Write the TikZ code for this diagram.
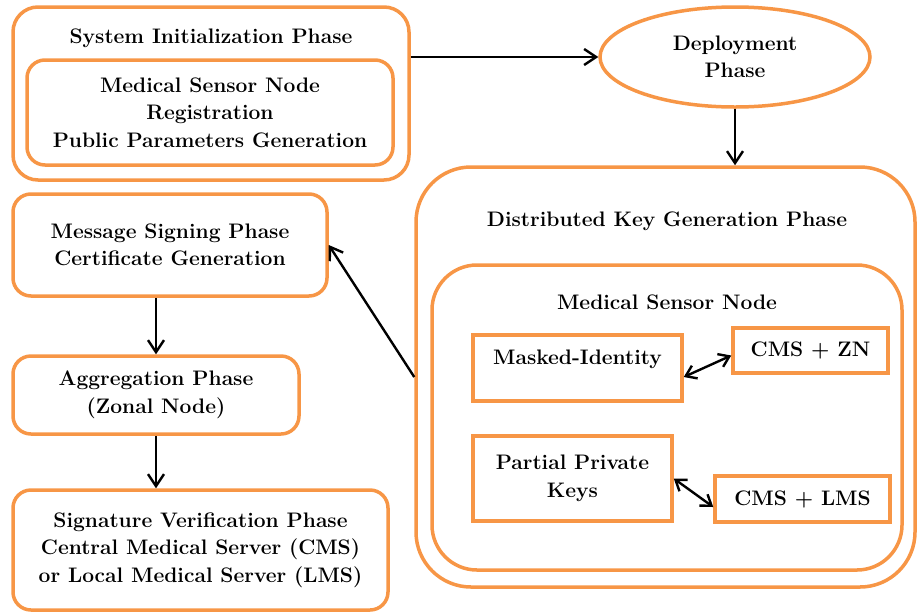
\documentclass[tikz,border=0pt]{standalone}
\usetikzlibrary{arrows.meta, shapes.geometric}
\definecolor{phaseOrange}{RGB}{247,150,70}

\begin{document}
\begin{tikzpicture}[
    x=1pt, y=-1pt,
    font=\fontsize{21}{27.5}\selectfont\bfseries,
    fase/.style={
        rectangle,
        rounded corners=18pt,
        draw=phaseOrange,
        line width=3.5pt,
        align=center,
        inner sep=0pt
    },
    marco/.style={
        rectangle,
        draw=phaseOrange,
        line width=3.5pt,
        inner sep=0pt
    },
    caja/.style={
        rectangle,
        draw=phaseOrange,
        line width=3.5pt,
        align=center,
        inner sep=0pt
    },
    titulo/.style={
        align=center,
        inner sep=0pt
    },
    flecha/.style={
        -{Straight Barb[length=12pt, width=16pt]},
        line width=2.4pt
    },
    dflecha/.style={
        {Straight Barb[length=10pt, width=14pt]}-{Straight Barb[length=10pt, width=14pt]},
        line width=2.4pt
    }
]
    \useasboundingbox (0,0) rectangle (917,611);

    % system initialization
    \node[marco, rounded corners=25pt, minimum width=396pt, minimum height=173pt] (sysinit) at (211,93.5) {};
    \node[titulo] (sysinitT) at (211,38) {System Initialization Phase};
    \node[fase, minimum width=366pt, minimum height=105pt] (registro) at (210,112.5)
        {Medical Sensor Node\\Registration\\Public Parameters Generation};

    % deployment
    \node[ellipse, draw=phaseOrange, line width=3.5pt, align=center, inner sep=0pt,
          minimum width=270pt, minimum height=100pt] (deploy) at (735,57) {Deployment\\Phase};

    % distributed key generation
    \node[marco, rounded corners=55pt, minimum width=499pt, minimum height=420pt] (dkg) at (665.5,377) {};
    \node[titulo] (dkgT) at (667,221) {Distributed Key Generation Phase};
    \node[marco, rounded corners=45pt, minimum width=470pt, minimum height=305pt] (msn) at (667,417.5) {};
    \node[titulo] (msnT) at (667,302) {Medical Sensor Node};
    \node[caja, minimum width=209pt, minimum height=66pt, text height=14pt, text depth=22pt] (masked) at (577.5,368) {Masked-Identity};
    \node[caja, minimum width=155pt, minimum height=45pt] (cmszn) at (810.5,350.5) {CMS + ZN};
    \node[caja, minimum width=199pt, minimum height=85pt] (ppk) at (572.5,478.5) {Partial Private\\Keys};
    \node[caja, minimum width=175pt, minimum height=46pt] (cmslms) at (802.5,499) {CMS + LMS};

    % left column
    \node[fase, minimum width=314pt, minimum height=102pt] (msp) at (170,245) {Message Signing Phase\\Certificate Generation};
    \node[fase, minimum width=286pt, minimum height=78pt] (agg) at (156,395) {Aggregation Phase\\(Zonal Node)};
    \node[fase, minimum width=375pt, minimum height=120pt] (sigver) at (200.5,550)
        {Signature Verification Phase\\Central Medical Server (CMS)\\or Local Medical Server (LMS)};

    \draw[flecha] (sysinit.east |- deploy.west) -- (deploy.west);
    \draw[flecha] (deploy.south) -- (deploy.south |- dkg.north);
    \draw[flecha] (dkg.west) -- (msp.east);
    \draw[flecha] (agg.north |- msp.south) -- (agg.north);
    \draw[flecha] (agg.south) -- (agg.south |- sigver.north);
    \draw[dflecha] ([yshift=-9pt]masked.east) -- ([yshift=-5pt]cmszn.west);
    \draw[dflecha] (ppk.east) -- ([yshift=-8pt]cmslms.west);

\end{tikzpicture}
\end{document}
